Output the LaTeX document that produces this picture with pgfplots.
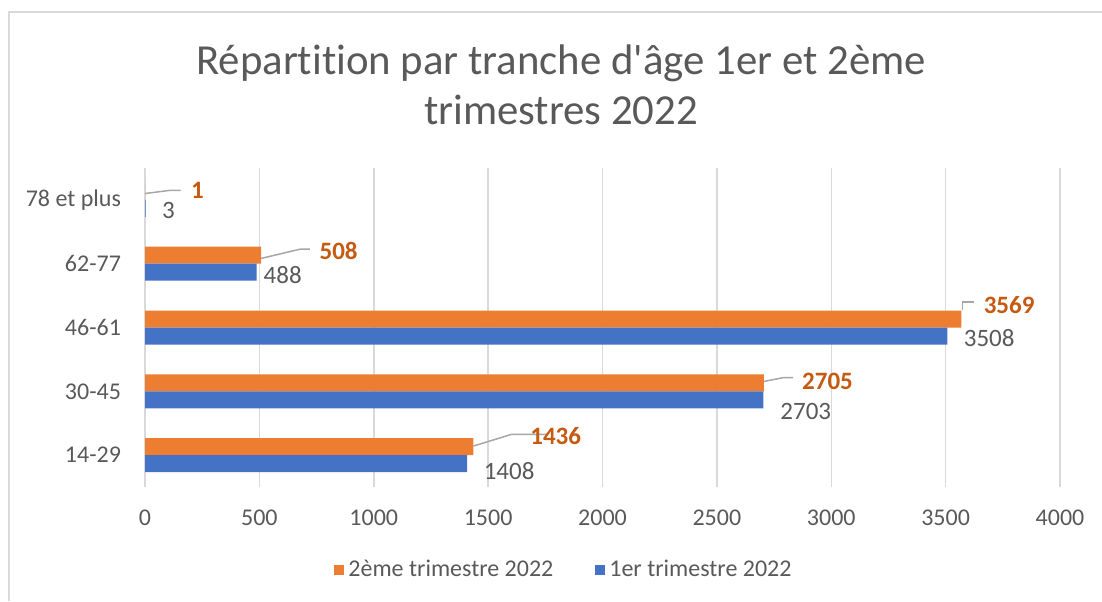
\documentclass[border=0pt]{standalone}
\usepackage{pgfplots}
\pgfplotsset{compat=1.18}
\usepackage{pgfplotstable}
\usepackage{fontspec}
\setmainfont{Carlito}[Ligatures={NoCommon}]
\definecolor{cOr}{HTML}{ED7D31}
\definecolor{cBl}{HTML}{4472C4}
\definecolor{cOrT}{HTML}{C55A11}
\definecolor{cText}{HTML}{595959}
\definecolor{cGrid}{HTML}{D9D9D9}
\definecolor{cLead}{HTML}{A6A6A6}

\pgfplotstableread{
y v dx dy
0 1436 28.25 5.25
1 2705 19 0.65
2 3569 11 7
3 508 29 2.15
4 1 22.75 0.4
}\orangedata

\pgfplotstableread{
y v dx dy
0 1408 8.15 -3.75
1 2703 8.35 -5.85
2 3508 8 -1
3 488 3.35 -1.5
4 3 8 -1.1
}\bluedata

\begin{document}
\begin{tikzpicture}
\path[use as bounding box] (0,0) rectangle (551pt,300.5pt);
\draw[cGrid, line width=1pt] (4.5pt,0pt) -- (4.5pt,294.5pt) -- (551pt,294.5pt);
\node[align=center, font=\fontsize{21.4}{25}\selectfont, text=cText] at (280.5pt,258pt) {Répartition par tranche d\textquotesingle âge 1er et 2ème\\trimestres 2022};
\begin{axis}[
  at={(72.5pt,57pt)}, anchor=south west, scale only axis,
  width=457.5pt, height=159.5pt,
  xbar, bar width=8.5pt,
  xmin=0, xmax=4000, ymin=-0.5, ymax=4.5,
  xtick={0,500,...,4000},
  ytick={0,1,2,3,4},
  yticklabels={14-29,30-45,46-61,62-77,78 et plus},
  xmajorgrids, major grid style={draw=cGrid, line width=0.75pt},
  axis line style={draw=none}, major tick length=0pt,
  tick label style={font=\fontsize{12}{14}\selectfont, text=cText},
  /pgf/number format/assume math mode=true,
  /pgf/number format/set thousands separator={},
  xticklabel style={yshift=-8pt},
  yticklabel style={xshift=-8.5pt},
  clip=false,
  legend style={at={(0.459,-0.26)}, anchor=center, draw=none, fill=none,
    font=\fontsize{12}{14}\selectfont, text=cText,
    /tikz/every even column/.append style={column sep=19pt}},
  legend columns=2,
  legend image code/.code={\fill[#1] (0pt,-2.5pt) rectangle (5pt,2.5pt);},
]
\addplot[fill=cOr, draw=none, bar shift=4.25pt,
  visualization depends on={\thisrow{dx} \as \dx},
  visualization depends on={\thisrow{dy} \as \dy},
  nodes near coords,
  nodes near coords style={anchor=west, inner sep=0pt, xshift=\dx*1pt, yshift=\dy*1pt,
    font=\fontsize{12.5}{14}\selectfont\bfseries, text=cOrT},
] table[x=v, y=y] {\orangedata};
\addlegendentry{2ème trimestre 2022}
\addplot[fill=cBl, draw=none, bar shift=-4.25pt,
  visualization depends on={\thisrow{dx} \as \dx},
  visualization depends on={\thisrow{dy} \as \dy},
  nodes near coords,
  nodes near coords style={anchor=west, inner sep=0pt, xshift=\dx*1pt, yshift=\dy*1pt,
    font=\fontsize{12.5}{14}\selectfont, text=cText},
] table[x=v, y=y] {\bluedata};
\addlegendentry{1er trimestre 2022}
\draw[cLead, line width=0.75pt] (axis cs:1436,0.142) -- (axis cs:1603,0.326) -- (axis cs:1763,0.326);
\draw[cLead, line width=0.75pt] (axis cs:2705,1.154) -- (axis cs:2789,1.213) -- (axis cs:2833,1.213);
\draw[cLead, line width=0.75pt] (axis cs:3573,2.268) -- (axis cs:3573,2.398) -- (axis cs:3624,2.398);
\draw[cLead, line width=0.75pt] (axis cs:508,3.083) -- (axis cs:678,3.228) -- (axis cs:721,3.228);
\draw[cLead, line width=0.75pt] (axis cs:0,4.1) -- (axis cs:109,4.15) -- (axis cs:156,4.15);
\end{axis}
\end{tikzpicture}
\end{document}
